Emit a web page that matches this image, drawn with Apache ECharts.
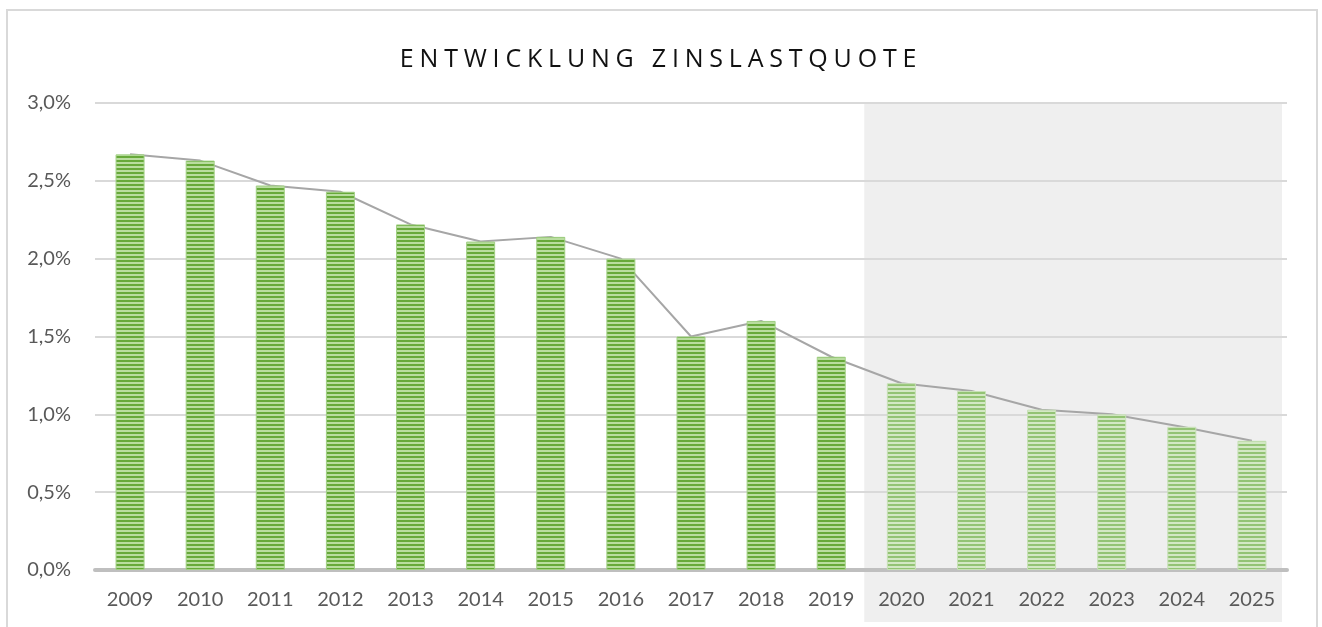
<!DOCTYPE html>
<html>
<head>
<meta charset="utf-8">
<script src="https://cdn.jsdelivr.net/npm/echarts@6/dist/echarts.min.js"></script>
<style>
    body { margin: 0; background: #fff; }
    #frame {
        position: absolute; left: 6px; top: 9px; width: 1308px; height: 700px;
        border: 2px solid #d9d9d9;
    }
    #title {
        position: absolute; left: 0; top: 39px; width: 1322px; text-align: center;
        font-family: 'Open Sans', sans-serif; font-size: 25px; letter-spacing: 5.8px;
        color: #111; line-height: 36px;
    }
    #chart { position: absolute; left: 0; top: 0; width: 1322px; height: 627px; }
</style>
</head>
<body>
<div id="frame"></div>
<div id="chart"></div>
<div id="title">ENTWICKLUNG ZINSLASTQUOTE</div>
<script>
    // Zinslastquote in Prozent, ab 2020 Planwerte
    var years = ['2009', '2010', '2011', '2012', '2013', '2014', '2015', '2016', '2017',
        '2018', '2019', '2020', '2021', '2022', '2023', '2024', '2025']
    var quote = [2.67, 2.63, 2.47, 2.43, 2.22, 2.11, 2.14, 2.00, 1.50,
        1.60, 1.37, 1.20, 1.15, 1.03, 1.00, 0.92, 0.83]
    var planStart = '2020'
    var yTicks = [0, 0.5, 1.0, 1.5, 2.0, 2.5, 3.0]

    function stripes (dark, light) {
        var c = document.createElement('canvas')
        c.width = 4
        c.height = 4
        var ctx = c.getContext('2d')
        ctx.fillStyle = light
        ctx.fillRect(0, 0, 4, 4)
        ctx.fillStyle = dark
        ctx.fillRect(0, 0, 4, 2)
        return c
    }

    var solid = stripes('#67a93a', '#b9dd9f')
    var faded = stripes('#93c374', '#d3e8c4')
    var planIdx = years.indexOf(planStart)

    var barData = quote.map(function (v, i) {
        var plan = i >= planIdx
        return {
            value: v,
            itemStyle: {
                color: { image: plan ? faded : solid, repeat: 'repeat' },
                borderColor: plan ? '#c7e1b6' : '#a2d085',
                borderWidth: 1
            }
        }
    })

    var chart = echarts.init(document.getElementById('chart'))
    var font = 'Lato, sans-serif'
    chart.setOption({
        animation: false,
        grid: { left: 95, right: 35, top: 103, bottom: 57 },
        xAxis: {
            type: 'category',
            data: years,
            axisTick: { show: false },
            axisLine: { lineStyle: { color: '#bfbfbf', width: 4 } },
            axisLabel: { color: '#595959', fontSize: 20, fontFamily: font, margin: 20 }
        },
        yAxis: {
            type: 'value',
            min: yTicks[0],
            max: yTicks[yTicks.length - 1],
            interval: 0.5,
            axisLine: { show: false },
            axisTick: { show: false },
            splitLine: { lineStyle: { color: '#d9d9d9', width: 2 } },
            axisLabel: {
                color: '#595959', fontSize: 20, fontFamily: font, margin: 24,
                formatter: function (v) { return v.toFixed(1).replace('.', ',') + '%' }
            }
        },
        series: [
            {
                type: 'line',
                data: quote,
                symbol: 'none',
                z: 1,
                lineStyle: { color: '#a6a6a6', width: 2 }
            },
            {
                type: 'bar',
                data: barData,
                barWidth: 29,
                z: 3
            }
        ]
    })

    // grauer Hintergrund fuer den Planungszeitraum
    var band = (1322 - 95 - 35) / years.length
    var x0 = chart.convertToPixel({ xAxisIndex: 0 }, planStart) - band / 2 - 2
    var x1 = chart.convertToPixel({ xAxisIndex: 0 }, years[years.length - 1]) + band / 2 - 5
    var y0 = chart.convertToPixel({ yAxisIndex: 0 }, yTicks[yTicks.length - 1]) - 1
    chart.setOption({
        graphic: [{
            type: 'rect',
            z: -10,
            silent: true,
            shape: { x: x0, y: y0, width: x1 - x0, height: 622 - y0 },
            style: { fill: '#efefef' }
        }]
    })
</script>
</body>
</html>
